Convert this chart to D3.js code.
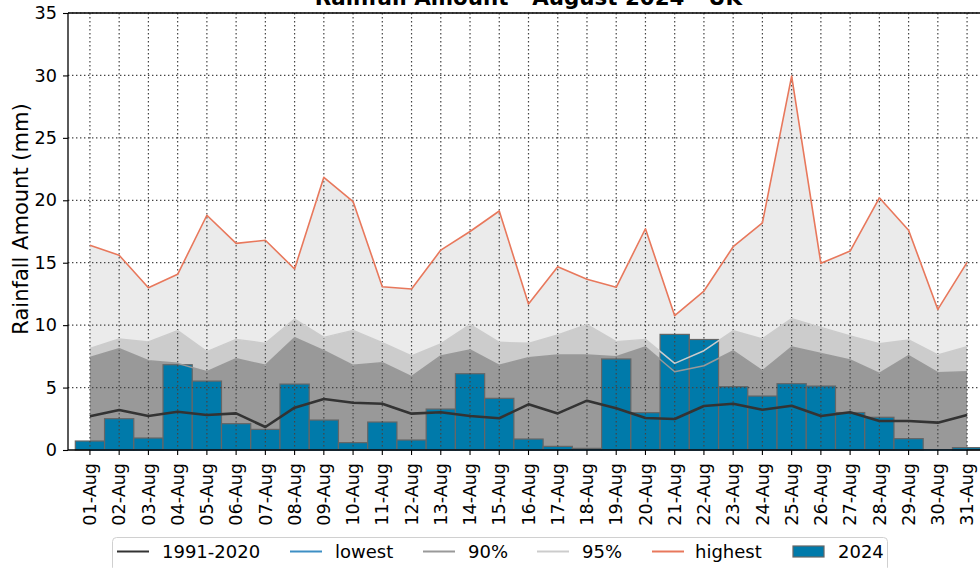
<!DOCTYPE html>
<html>
<head>
<meta charset="utf-8">
<script src="https://cdn.jsdelivr.net/npm/d3@7"></script>
<style>
body { margin: 0; background: #fff; }
svg { display: block; font-family: "DejaVu Sans", sans-serif; }
</style>
</head>
<body>
<div id="chart-area"></div>
<script>
// days of the month
var days = ["01-Aug","02-Aug","03-Aug","04-Aug","05-Aug","06-Aug","07-Aug","08-Aug","09-Aug","10-Aug",
            "11-Aug","12-Aug","13-Aug","14-Aug","15-Aug","16-Aug","17-Aug","18-Aug","19-Aug","20-Aug",
            "21-Aug","22-Aug","23-Aug","24-Aug","25-Aug","26-Aug","27-Aug","28-Aug","29-Aug","30-Aug","31-Aug"];

// 2024 daily rainfall (mm)
var rain2024 = [0.72, 2.51, 0.96, 6.83, 5.52, 2.11, 1.65, 5.28, 2.40, 0.59,
                2.24, 0.80, 3.28, 6.11, 4.14, 0.88, 0.29, 0.13, 7.29, 2.99,
                9.26, 8.85, 5.07, 4.32, 5.31, 5.12, 3.00, 2.62, 0.91, 0.00, 0.19];

// 1991-2020 average
var avg = [2.70, 3.20, 2.72, 3.07, 2.80, 2.93, 1.84, 3.39, 4.08, 3.79,
           3.71, 2.91, 3.02, 2.72, 2.54, 3.66, 2.93, 3.95, 3.34, 2.56,
           2.48, 3.52, 3.71, 3.23, 3.55, 2.72, 3.02, 2.32, 2.32, 2.19, 2.80];

var lowest = [0, 0, 0, 0, 0, 0, 0, 0, 0, 0,
              0, 0, 0, 0, 0, 0, 0, 0, 0, 0,
              0, 0, 0, 0, 0, 0, 0, 0, 0, 0, 0];

var p90 = [7.42, 8.11, 7.15, 6.94, 6.27, 7.31, 6.78, 8.99, 7.95, 6.78,
           6.99, 5.87, 7.53, 8.01, 6.78, 7.39, 7.61, 7.61, 7.47, 8.25,
           6.27, 6.75, 7.93, 6.33, 8.25, 7.74, 7.21, 6.14, 7.55, 6.19, 6.27];

var p95 = [8.14, 8.89, 8.65, 9.56, 7.88, 8.86, 8.54, 10.49, 9.02, 9.58,
           8.60, 7.53, 8.49, 10.04, 8.62, 8.54, 9.21, 10.04, 8.68, 8.86,
           6.94, 7.95, 9.55, 8.89, 10.52, 9.82, 9.13, 8.51, 8.81, 7.61, 8.27];

var highest = [16.40, 15.60, 13.00, 14.07, 18.80, 16.55, 16.80, 14.50, 21.84, 19.90,
               13.08, 12.89, 16.01, 17.50, 19.14, 11.69, 14.68, 13.67, 13.03, 17.72,
               10.76, 12.73, 16.28, 18.20, 29.95, 14.95, 15.93, 20.20, 17.60, 11.26, 15.03];

var yTicks = [0, 5, 10, 15, 20, 25, 30, 35];

var margin = { left: 68, top: 13 },
    width = 921,
    height = 437;

var svg = d3.select("#chart-area").append("svg")
    .attr("width", 980)
    .attr("height", 568);

var g = svg.append("g")
    .attr("transform", "translate(" + margin.left + "," + margin.top + ")");

// x: index scale, plus a band scale for the bars / ticks
var xi = d3.scaleLinear().domain([-0.75, 30.75]).range([0, width]);
var x = d3.scaleBand()
    .domain(days)
    .range([xi(-0.5), xi(30.5)])
    .padding(0);
var cx = function(i) { return xi(i); };

var y = d3.scaleLinear().domain([0, 35]).range([height, 0]);

// title (sits partly outside the window, as in the original)
svg.append("text")
    .attr("x", margin.left + width / 2)
    .attr("y", 5)
    .attr("text-anchor", "middle")
    .attr("font-size", "21.4px")
    .attr("font-weight", "bold")
    .text("Rainfall Amount - August 2024 - UK");

// y label
svg.append("text")
    .attr("transform", "translate(28,219) rotate(-90)")
    .attr("text-anchor", "middle")
    .attr("font-size", "21px")
    .text("Rainfall Amount (mm)");

var idx = d3.range(days.length);

// shaded bands
function band(lo, hi, fill) {
    var area = d3.area()
        .x(function(i) { return cx(i); })
        .y0(function(i) { return y(lo[i]); })
        .y1(function(i) { return y(hi[i]); });
    g.append("path").datum(idx).attr("d", area).attr("fill", fill);
}
band(lowest, p90, "#999999");
band(p90, p95, "#cccccc");
band(p95, highest, "#ebebeb");

// 2024 bars
g.selectAll("rect.bar")
    .data(rain2024)
    .enter().append("rect")
    .attr("class", "bar")
    .attr("x", function(d, i) { return x(days[i]); })
    .attr("y", function(d) { return y(d); })
    .attr("width", x.bandwidth())
    .attr("height", function(d) { return height - y(d); })
    .attr("fill", "#007aaa")
    .attr("stroke", "#666")
    .attr("stroke-width", 1.2);

// grid
g.selectAll("line.hgrid")
    .data(yTicks.slice(1))
    .enter().append("line")
    .attr("x1", 0).attr("x2", width)
    .attr("y1", function(d) { return y(d); })
    .attr("y2", function(d) { return y(d); })
    .attr("stroke", "#444").attr("stroke-width", 1.2)
    .attr("stroke-dasharray", "1.4,2.6");

g.selectAll("line.vgrid")
    .data(days)
    .enter().append("line")
    .attr("x1", function(d) { return x(d) + x.bandwidth() / 2; })
    .attr("x2", function(d) { return x(d) + x.bandwidth() / 2; })
    .attr("y1", 0).attr("y2", height)
    .attr("stroke", "#444").attr("stroke-width", 1.2)
    .attr("stroke-dasharray", "1.4,2.6");

// lines
function line(vals, color, w) {
    var ln = d3.line()
        .x(function(i) { return cx(i); })
        .y(function(i) { return y(vals[i]); });
    g.append("path").datum(idx)
        .attr("d", ln)
        .attr("fill", "none")
        .attr("stroke", color)
        .attr("stroke-width", w)
        .attr("stroke-linejoin", "round");
}
line(lowest, "#3d8fc4", 1.5);
line(p90, "#999999", 1.5);
line(p95, "#cccccc", 1.5);
line(avg, "#333333", 2.6);
line(highest, "#e8785c", 1.6);

// axes
var xAxisCall = d3.axisBottom(x).tickSize(5).tickSizeOuter(0);
var xAxis = g.append("g")
    .attr("class", "x axis")
    .attr("transform", "translate(0," + height + ")")
    .call(xAxisCall);
xAxis.select(".domain").remove();
xAxis.selectAll("line").attr("stroke", "#000").attr("stroke-width", 1.1);
xAxis.selectAll("text")
    .attr("transform", "rotate(-90)")
    .attr("text-anchor", "end")
    .attr("x", -13)
    .attr("y", 0)
    .attr("dy", "0.35em")
    .attr("font-size", "17.6px")
    .attr("font-family", "DejaVu Sans")
    .attr("fill", "#000");

var yAxisCall = d3.axisLeft(y).tickValues(yTicks).tickSize(5).tickSizeOuter(0);
var yAxis = g.append("g")
    .attr("class", "y axis")
    .call(yAxisCall);
yAxis.select(".domain").remove();
yAxis.selectAll("line").attr("stroke", "#000").attr("stroke-width", 1.1);
yAxis.selectAll("text")
    .attr("x", -11)
    .attr("font-size", "17.6px")
    .attr("font-family", "DejaVu Sans")
    .attr("fill", "#000");

// spines
g.append("line").attr("x1", 0).attr("x2", 0).attr("y1", 0).attr("y2", height)
    .attr("stroke", "#000").attr("stroke-width", 1.3);
g.append("line").attr("x1", 0).attr("x2", width).attr("y1", 0).attr("y2", 0)
    .attr("stroke", "#000").attr("stroke-width", 1.3);
g.append("line").attr("x1", 0).attr("x2", width).attr("y1", height).attr("y2", height)
    .attr("stroke", "#000").attr("stroke-width", 1.3);
g.append("line").attr("x1", width).attr("x2", width).attr("y1", 0).attr("y2", height)
    .attr("stroke", "#000").attr("stroke-width", 1.3);

// legend
var legendItems = [
    { label: "1991-2020", color: "#333333", type: "line", lx: 117, tx: 162 },
    { label: "lowest", color: "#3d8fc4", type: "line", lx: 290, tx: 335 },
    { label: "90%", color: "#999999", type: "line", lx: 423, tx: 468 },
    { label: "95%", color: "#cccccc", type: "line", lx: 537, tx: 582 },
    { label: "highest", color: "#e8785c", type: "line", lx: 652, tx: 695 },
    { label: "2024", color: "#007aaa", type: "patch", lx: 793, tx: 838 }
];

var legend = svg.append("g").attr("class", "legend");
legend.append("rect")
    .attr("x", 112.5).attr("y", 537.5)
    .attr("width", 775).attr("height", 34)
    .attr("rx", 4)
    .attr("fill", "#fff")
    .attr("stroke", "#d0d0d0")
    .attr("stroke-width", 1);

legendItems.forEach(function(d) {
    if (d.type === "line") {
        legend.append("line")
            .attr("x1", d.lx).attr("x2", d.lx + 32)
            .attr("y1", 551.5).attr("y2", 551.5)
            .attr("stroke", d.color).attr("stroke-width", 2);
    } else {
        legend.append("rect")
            .attr("x", d.lx).attr("y", 546)
            .attr("width", 31).attr("height", 11)
            .attr("fill", d.color).attr("stroke", "#666").attr("stroke-width", 1.2);
    }
    legend.append("text")
        .attr("x", d.tx).attr("y", 557.5)
        .attr("font-size", "18px")
        .text(d.label);
});
</script>
</body>
</html>
